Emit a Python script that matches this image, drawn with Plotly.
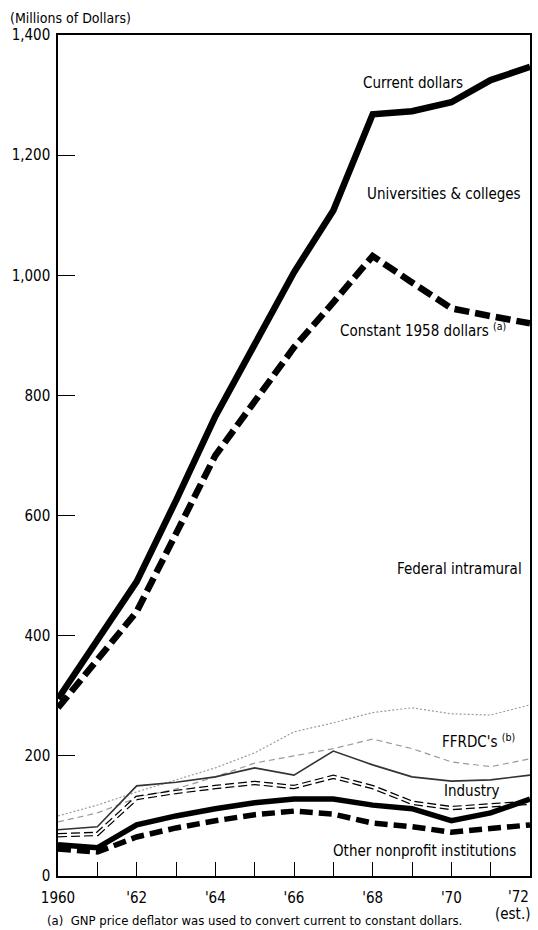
import plotly.graph_objects as go

years = list(range(1960, 1973))

uc_current = [295, 392, 490, 625, 765, 885, 1005, 1108, 1268, 1273, 1288, 1325, 1347]
uc_constant = [280, 362, 440, 570, 700, 790, 880, 955, 1032, 988, 945, 932, 920]

fed_current = [100, 118, 140, 160, 180, 205, 240, 255, 272, 280, 270, 268, 285]
fed_constant = [90, 105, 130, 145, 165, 188, 200, 212, 228, 212, 190, 182, 195]

ffrdc_current = [77, 82, 150, 156, 165, 180, 168, 208, 185, 165, 158, 160, 168]
ind_constant = [68, 70, 130, 140, 148, 155, 148, 165, 148, 122, 113, 117, 122]

onp_current = [52, 47, 85, 100, 112, 122, 128, 128, 118, 112, 92, 105, 128]
onp_constant = [45, 40, 65, 80, 92, 102, 108, 103, 88, 82, 73, 78, 85]

x_tickvals = [1960, 1962, 1964, 1966, 1968, 1970]
x_ticktext = ["1960", "'62", "'64", "'66", "'68", "'70"]
y_tickvals = [0, 200, 400, 600, 800, 1000, 1200, 1400]

FONT = "Liberation Sans Narrow, DejaVu Sans Condensed, Roboto, Arial, sans-serif"

W, H = 538, 930
L, R, T, B = 58, 8, 35, 54
PW, PH = W - L - R, H - T - B


def px(x):
    return (x - L) / PW


def py(y):
    return (H - B - y) / PH


fig = go.Figure()


def add(y, color, width, dash="solid"):
    fig.add_trace(go.Scatter(x=years, y=y, mode="lines",
                             line=dict(color=color, width=width, dash=dash),
                             hoverinfo="skip", showlegend=False))


# lower sectors
add(fed_current, "#9a9a9a", 1.2, "2px,2px")
add(fed_constant, "#9a9a9a", 1.2, "6px,4px")
add(ffrdc_current, "#333333", 1.6, "solid")
add(ind_constant, "#000000", 4.5, "9px,4px")
add(ind_constant, "#ffffff", 2.0, "solid")
add(onp_constant, "#000000", 5.5, "13px,6px")
add(onp_current, "#000000", 5.5, "solid")

# universities & colleges
add(uc_constant, "#000000", 6.5, "15px,6px")
add(uc_current, "#000000", 6.5, "solid")

fig.update_xaxes(range=[1960, 1972], tickvals=x_tickvals, ticktext=x_ticktext,
                 ticks="inside", ticklen=14, tickwidth=1.2, tickcolor="black",
                 minor=dict(dtick=1, tick0=1960, ticks="inside", ticklen=14,
                            tickwidth=1.2, tickcolor="black"),
                 showline=True, linecolor="black", linewidth=1.5, mirror=True,
                 showgrid=False, zeroline=False, automargin=False,
                 tickfont=dict(family=FONT, size=15, color="black"),
                 ticklabelstandoff=7)
fig.update_yaxes(range=[0, 1400], tickvals=y_tickvals, tickformat=",",
                 ticks="inside", ticklen=17, tickwidth=1.2, tickcolor="black",
                 showline=True, linecolor="black", linewidth=1.5, mirror=True,
                 showgrid=False, zeroline=False, automargin=False,
                 tickfont=dict(family=FONT, size=15, color="black"),
                 ticklabelstandoff=3)

annos = [
    ("(Millions of Dollars)", 8, 18, "left", 14),
    ("Current dollars", 361, 83, "left", 15),
    ("Universities & colleges", 365, 194, "left", 15),
    ("Constant 1958 dollars <sup>(a)</sup>", 338, 330, "left", 15),
    ("Federal intramural", 395, 569, "left", 15),
    ("FFRDC's <sup>(b)</sup>", 440, 741, "left", 15),
    ("Industry", 442, 791, "left", 15),
    ("Other nonprofit institutions", 331, 851, "left", 15),
    ("'72", 531, 897, "right", 15),
    ("(est.)", 532, 914, "right", 15),
    ("(a)  GNP price deflator was used to convert current to constant dollars.",
     45, 920, "left", 13),
]
for text, x, y, anchor, size in annos:
    fig.add_annotation(text=text, x=px(x), y=py(y), xref="paper", yref="paper",
                       xanchor=anchor, yanchor="middle", showarrow=False,
                       font=dict(family=FONT, size=size, color="black"))

fig.update_layout(width=W, height=H, margin=dict(l=L, r=R, t=T, b=B),
                  paper_bgcolor="white", plot_bgcolor="white",
                  font=dict(family=FONT, color="black"))

fig.write_html("out.html", config={"displayModeBar": False},
               post_script="document.body.style.margin='0';"
                           "document.body.style.overflow='hidden';")
